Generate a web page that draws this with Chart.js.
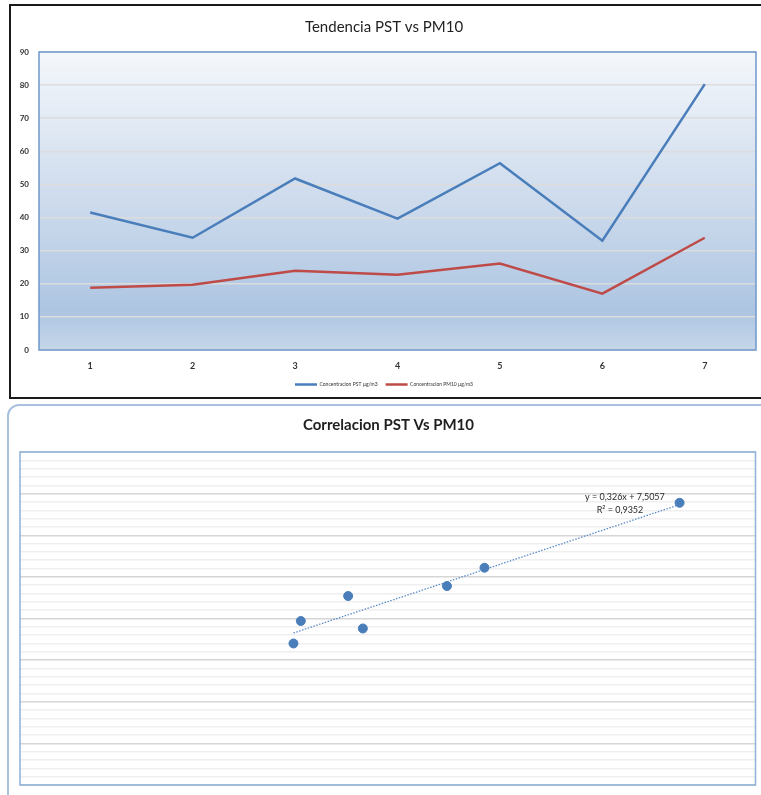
<!DOCTYPE html>
<html><head><meta charset="utf-8">
<script src="https://cdn.jsdelivr.net/npm/chart.js@4.4.0/dist/chart.umd.min.js"></script>
<style>
html,body{margin:0;padding:0;background:#fff;width:761px;height:795px;overflow:hidden;}
#f1{position:absolute;left:9px;top:4px;width:760px;height:395px;border:2px solid #1a1a1a;box-sizing:border-box;}
#f2{position:absolute;left:7px;top:404px;width:770px;height:410px;border:2px solid #a9c0de;border-radius:12px;box-sizing:border-box;}
#c1{position:absolute;left:12px;top:7px;}
#c2{position:absolute;left:10px;top:407px;}
</style></head>
<body>
<div id="f1"></div><div id="f2"></div>
<canvas id="c1" width="746" height="392"></canvas>
<canvas id="c2" width="751" height="388"></canvas>
<script>
// ---- data ----
const categories = ['1','2','3','4','5','6','7'];
const pstValues  = [41.5, 33.9, 51.8, 39.7, 56.4, 33.0, 80.3];
const pm10Values = [18.8, 19.7, 23.9, 22.7, 26.1, 17.0, 33.9];
const seriesNames = ['Concentracion PST µg/m3', 'Concentracion PM10 µg/m3'];
const yTicksTop = [0,10,20,30,40,50,60,70,80,90];
const trendX = [33.0, 80.3];
const trendY = [18.26, 33.68];
const trendLabel = ['y = 0,326x + 7,5057', 'R² = 0,9352'];

const FONT = "Lato, 'Open Sans', sans-serif";

const plotBg = {
  id:'plotBg',
  beforeDraw(chart, args, opts){
    const {ctx, chartArea:a} = chart;
    ctx.save();
    if (opts.gradient){
      const g = ctx.createLinearGradient(0,a.top,0,a.bottom);
      g.addColorStop(0,'#f4f7fb');
      g.addColorStop(0.55,'#c9d8eb');
      g.addColorStop(0.87,'#adc5e2');
      g.addColorStop(1,'#c6d6ea');
      ctx.fillStyle = g;
      ctx.fillRect(a.left,a.top,a.right-a.left,a.bottom-a.top);
    }
    ctx.restore();
  },
  afterDatasetsDraw(chart, args, opts){
    const {ctx, chartArea:a} = chart;
    ctx.save();
    ctx.strokeStyle = opts.border || '#6f98cc';
    ctx.lineWidth = opts.borderWidth || 1.5;
    ctx.strokeRect(a.left,a.top,a.right-a.left,a.bottom-a.top);
    ctx.restore();
  }
};

new Chart(document.getElementById('c1'), {
  type:'line',
  data:{
    labels: categories,
    datasets:[
      {label:seriesNames[0], data:pstValues, borderColor:'#4a7ebb', backgroundColor:'#4a7ebb', borderWidth:2.5, pointRadius:0, tension:0},
      {label:seriesNames[1], data:pm10Values, borderColor:'#be4b48', backgroundColor:'#be4b48', borderWidth:2.5, pointRadius:0, tension:0}
    ]
  },
  options:{
    responsive:false, animation:false,
    layout:{padding:{left:0,right:2,top:0,bottom:2}},
    plugins:{
      plotBg:{gradient:true, border:'#6f98cc', borderWidth:1.5},
      title:{display:true, text:'Tendencia PST vs PM10', color:'#1f1f1f', font:{family:FONT, size:15, weight:'normal'}, padding:{top:11,bottom:16}},
      legend:{position:'bottom', labels:{usePointStyle:true, pointStyle:'line', pointStyleWidth:22, boxHeight:1, color:'#333', font:{family:FONT,size:5}, padding:8}},
      tooltip:{enabled:false}
    },
    scales:{
      x:{offset:true, grid:{display:false}, border:{display:false},
         ticks:{color:'#333', font:{family:FONT,size:9,weight:'bold'}, padding:3},
         afterFit(s){ s.height = 24; }},
      y:{min:0,max:90, afterBuildTicks(s){ s.ticks = yTicksTop.map(v=>({value:v})); },
         grid:{color:'#dcdcdc', lineWidth:1.5, drawTicks:false}, border:{display:false},
         ticks:{color:'#333', font:{family:FONT,size:8,weight:'bold'}, padding:10},
         afterFit(s){ s.width = 27; }}
    }
  },
  plugins:[plotBg]
});

const trendText = {
  id:'trendText',
  afterDatasetsDraw(chart){
    const {ctx, scales:{x,y}} = chart;
    ctx.save();
    ctx.fillStyle = '#2a2a2a';
    ctx.font = "9px " + FONT;
    ctx.textAlign = 'center';
    ctx.textBaseline = 'middle';
    ctx.fillText(trendLabel[0], x.getPixelForValue(73.6), y.getPixelForValue(34.6));
    ctx.fillText(trendLabel[1], x.getPixelForValue(73.0), y.getPixelForValue(33.0));
    ctx.restore();
  }
};

new Chart(document.getElementById('c2'), {
  type:'scatter',
  data:{
    datasets:[
      {label:'PM10 vs PST', data:pstValues.map((v,i)=>({x:v,y:pm10Values[i]})), backgroundColor:'#4a7ebb', borderColor:'#4a7ebb', pointRadius:4.5, order:1},
      {type:'line', label:'Tendencia', data:trendX.map((v,i)=>({x:v,y:trendY[i]})), borderColor:'#5b8bc8', borderWidth:1.3, borderDash:[1.5,1.5], pointRadius:0, order:2}
    ]
  },
  options:{
    responsive:false, animation:false,
    layout:{padding:{left:10,right:4,top:0,bottom:10}},
    plugins:{
      plotBg:{gradient:false, border:'#8fb0d8', borderWidth:1.5},
      title:{display:true, text:'Correlacion PST Vs PM10', color:'#1f1f1f', font:{family:FONT, size:15, weight:'bold'}, padding:{top:9,bottom:18}},
      legend:{display:false},
      tooltip:{enabled:false}
    },
    scales:{
      x:{type:'linear', min:-0.5, max:89.6, grid:{display:false}, border:{display:false}, ticks:{display:false}, afterFit(s){ s.height = 0; }},
      y:{type:'linear', min:0, max:40, ticks:{display:false, stepSize:1}, border:{display:false},
         grid:{drawTicks:false, color:(c)=> (c.tick && c.tick.value % 5 === 0) ? '#d6d6d6' : '#efefef', lineWidth:1.5},
         afterFit(s){ s.width = 0; }}
    }
  },
  plugins:[plotBg, trendText]
});
</script>
</body></html>
